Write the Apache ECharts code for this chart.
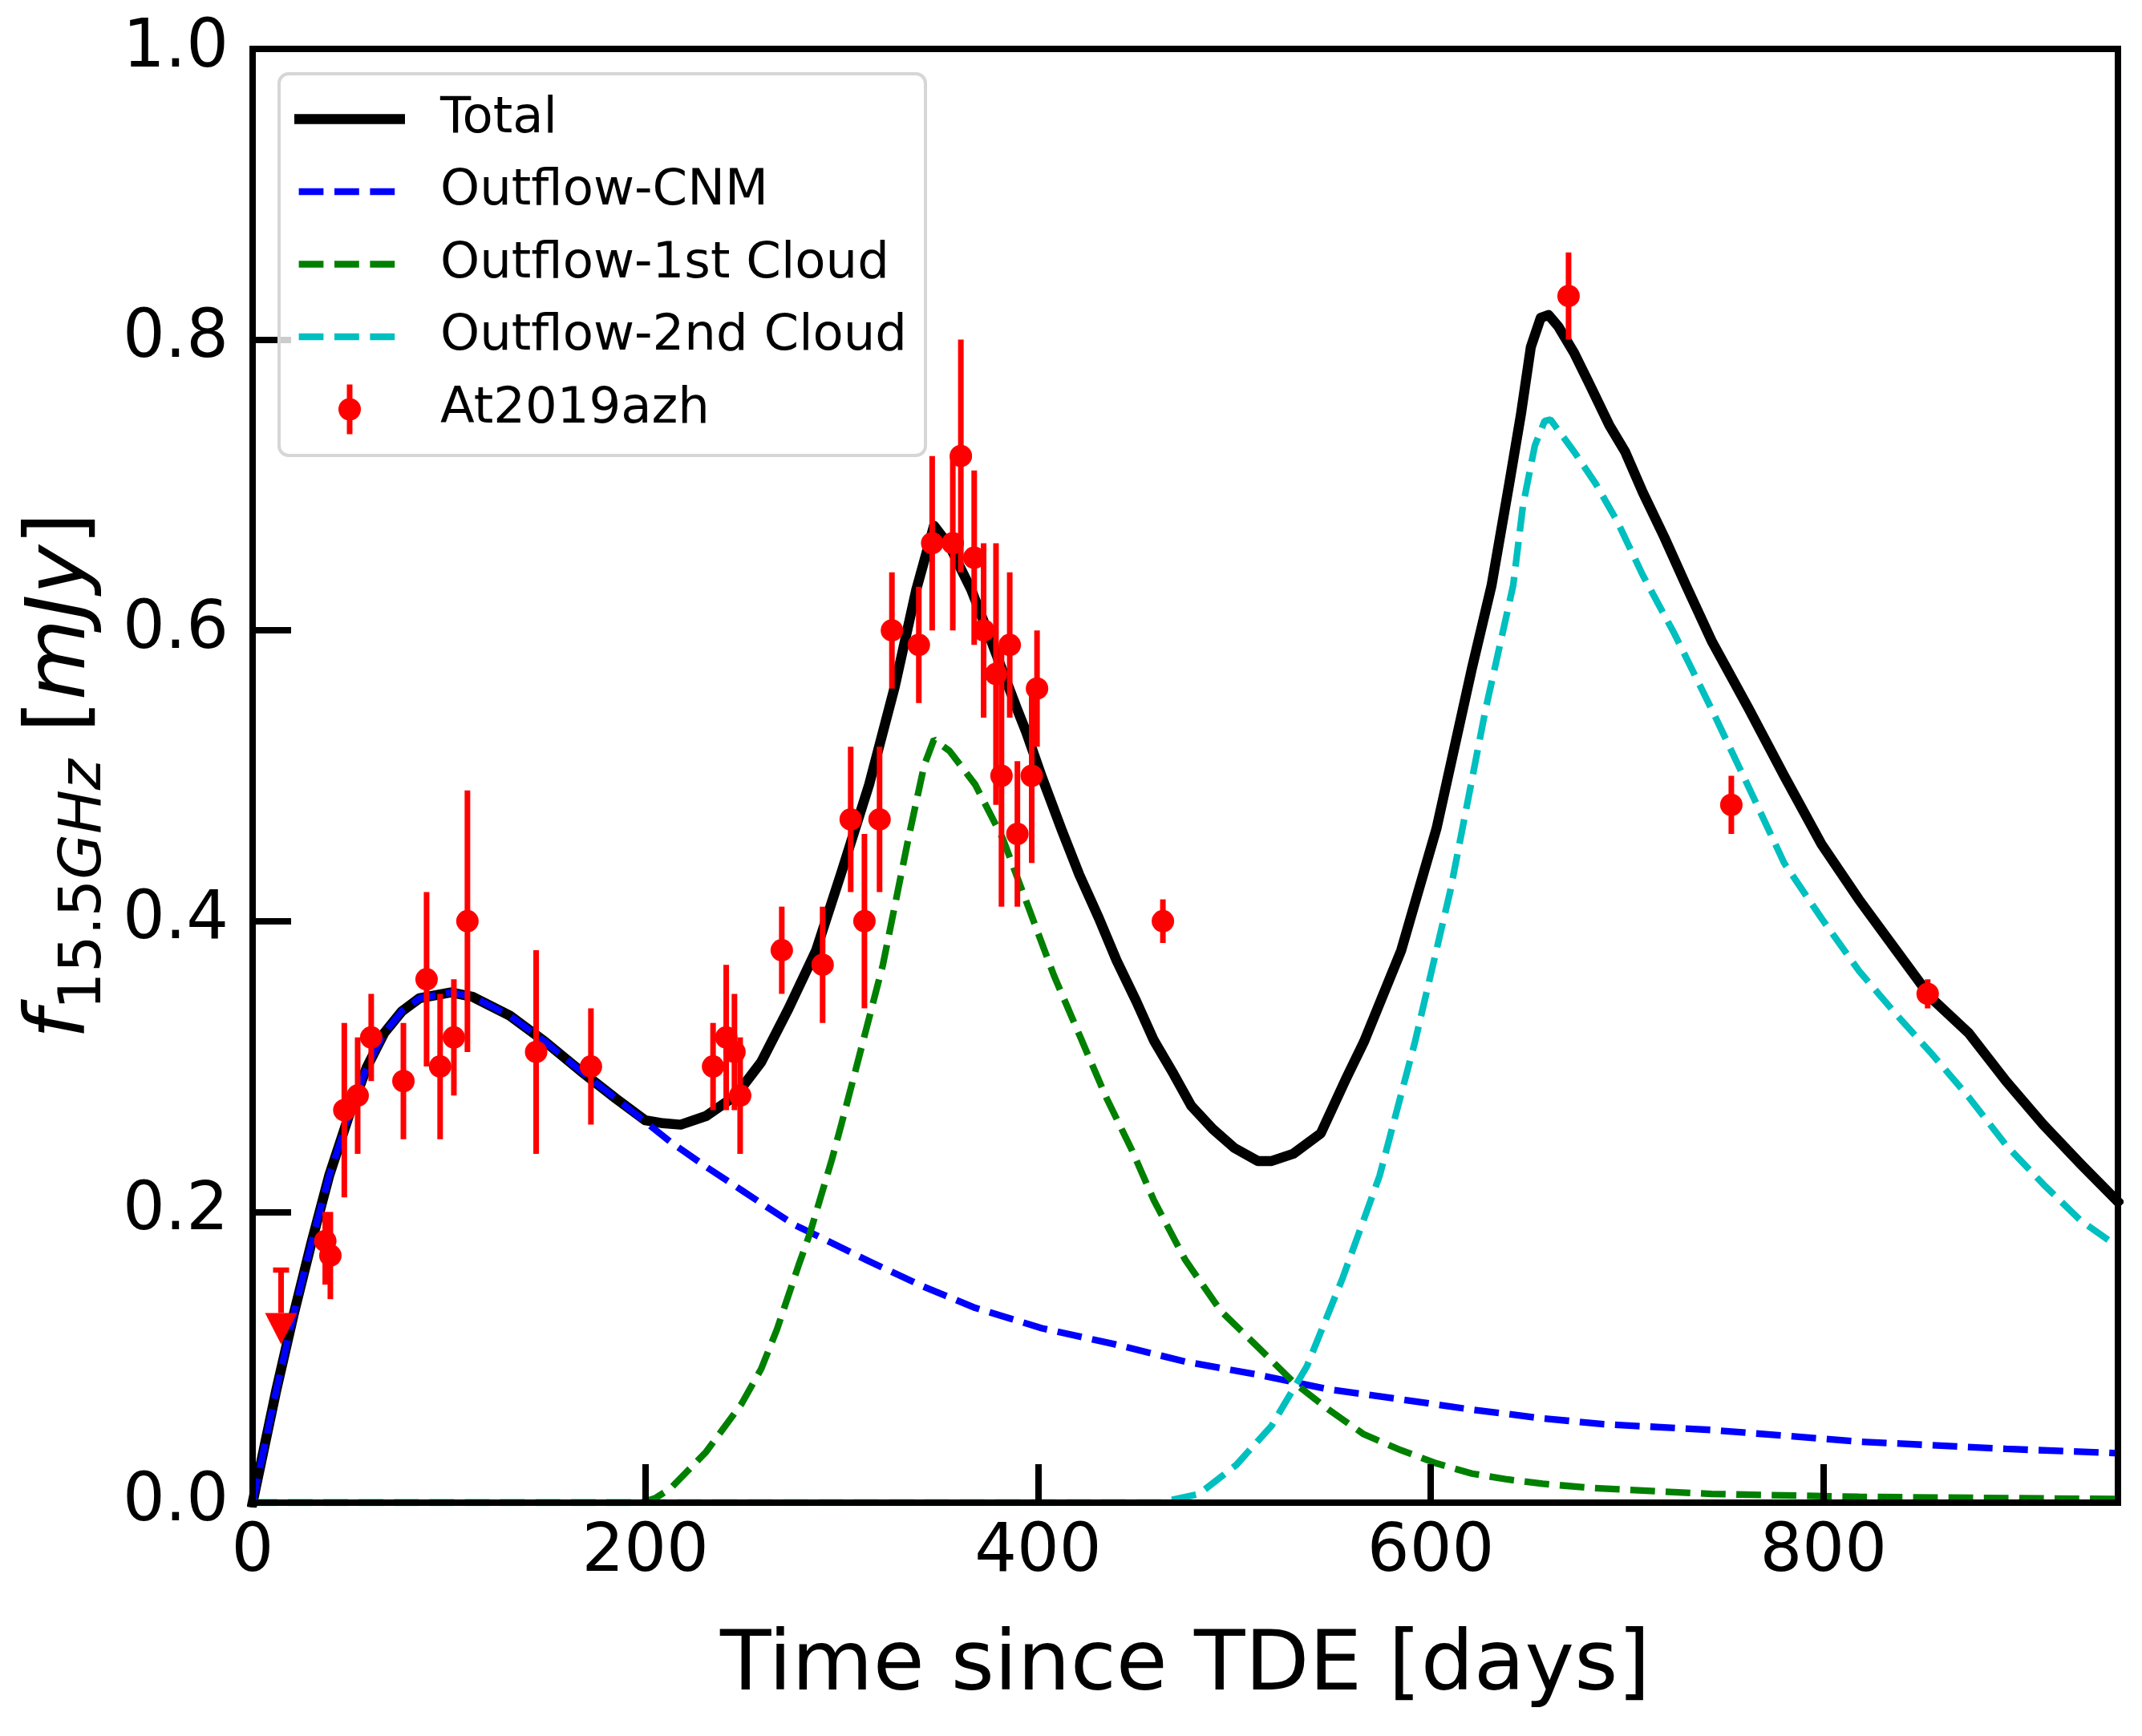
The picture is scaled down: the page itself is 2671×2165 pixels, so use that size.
<!DOCTYPE html>
<html>
<head>
<meta charset="utf-8">
<script src="https://cdn.jsdelivr.net/npm/echarts@6/dist/echarts.min.js"></script>
<style>
  html, body { margin: 0; padding: 0; background: #ffffff; }
  #chart { width: 2671px; height: 2165px; }
</style>
</head>
<body>
<div id="chart"></div>
<script>
// model curves, [days, mJy]
const totalCurve = [
    [0, 0.0], [12, 0.077], [21, 0.13], [30, 0.179], [39, 0.225], [49, 0.266], [58, 0.299],
    [67, 0.323], [76, 0.338], [85, 0.347], [101, 0.351], [112, 0.348], [131, 0.335],
    [149, 0.317], [167, 0.297], [185, 0.278], [200, 0.263], [209, 0.261], [218, 0.260],
    [231, 0.266], [246, 0.280], [259, 0.303], [273, 0.340], [287, 0.380], [300, 0.434],
    [314, 0.494], [327, 0.561], [338, 0.628], [347, 0.672], [355, 0.658], [366, 0.628],
    [375, 0.597], [389, 0.547], [394, 0.530], [402, 0.499], [412, 0.463], [421, 0.432],
    [431, 0.402], [440, 0.373], [450, 0.345], [459, 0.318], [469, 0.295], [478, 0.273],
    [489, 0.257], [500, 0.244], [512, 0.235], [519, 0.235], [530, 0.240], [544, 0.254],
    [557, 0.292], [566, 0.317], [585, 0.380], [603, 0.464], [621, 0.574], [631, 0.631],
    [640, 0.701], [646, 0.749], [651, 0.795], [656, 0.815], [660, 0.817], [665, 0.809],
    [673, 0.791], [681, 0.769], [691, 0.741], [699, 0.723], [708, 0.695], [719, 0.664],
    [730, 0.631], [743, 0.593], [762, 0.546], [780, 0.500], [799, 0.453], [818, 0.415],
    [837, 0.380], [855, 0.347], [874, 0.323], [893, 0.290], [912, 0.260], [931, 0.233],
    [950, 0.207]
];
const cnmCurve = [
    [0, 0.0], [12, 0.077], [21, 0.13], [30, 0.179], [39, 0.225], [49, 0.266], [58, 0.299],
    [67, 0.323], [76, 0.338], [85, 0.347], [101, 0.351], [112, 0.348], [131, 0.335],
    [149, 0.317], [167, 0.297], [185, 0.278], [200, 0.262], [213, 0.248], [231, 0.231],
    [249, 0.215], [259, 0.206], [276, 0.191], [287, 0.184], [314, 0.166], [341, 0.149],
    [368, 0.134], [402, 0.120], [439, 0.109], [475, 0.097], [512, 0.088], [548, 0.078],
    [585, 0.071], [621, 0.064], [657, 0.058], [688, 0.054], [743, 0.050], [818, 0.042],
    [893, 0.037], [950, 0.034]
];
const cloud1Curve = [
    [0, 0.0], [198, 0.0], [205, 0.003], [213, 0.010], [231, 0.035], [249, 0.068], [259, 0.092],
    [267, 0.119], [278, 0.163], [284, 0.186], [295, 0.236], [300, 0.261], [307, 0.297],
    [321, 0.370], [334, 0.457], [342, 0.507], [347, 0.525], [355, 0.517], [368, 0.494],
    [382, 0.457], [395, 0.410], [408, 0.363], [421, 0.322], [435, 0.278], [448, 0.242],
    [459, 0.208], [475, 0.167], [493, 0.132], [512, 0.107], [530, 0.083], [548, 0.064],
    [566, 0.047], [585, 0.036], [603, 0.027], [621, 0.020], [639, 0.016], [657, 0.013],
    [683, 0.010], [743, 0.006], [818, 0.004], [950, 0.0025]
];
const cloud2Curve = [
    [0, 0.0], [462, 0.0], [482, 0.006], [501, 0.026], [519, 0.053], [537, 0.094], [555, 0.154],
    [574, 0.225], [592, 0.317], [610, 0.421], [628, 0.546], [642, 0.631], [647, 0.686],
    [653, 0.727], [658, 0.744], [661, 0.745], [673, 0.723], [684, 0.701], [695, 0.675],
    [708, 0.638], [724, 0.598], [743, 0.546], [762, 0.492], [780, 0.440], [799, 0.402],
    [818, 0.366], [837, 0.336], [855, 0.309], [874, 0.279], [893, 0.246], [912, 0.219],
    [931, 0.194], [950, 0.176]
];

// AT2019azh 15.5 GHz detections
const obsDays = [37, 39.6, 46.7, 53.5, 60.4, 76.8, 88.6, 95.5, 102.5, 109.4, 144.4, 172.3,
    234.5, 241.2, 245.4, 248.3, 269.5, 290.3, 304.6, 311.6, 319.3, 325.6, 339.3, 346.1,
    356.6, 360.7, 367.5, 372.3, 378.6, 381.4, 385.6, 389.5, 396.8, 399.5, 463.6, 670.2,
    753.1, 853.1];
const obsFlux = [0.18, 0.17, 0.27, 0.28, 0.32, 0.29, 0.36, 0.30, 0.32, 0.40, 0.31, 0.30,
    0.30, 0.32, 0.31, 0.28, 0.38, 0.37, 0.47, 0.40, 0.47, 0.60, 0.59, 0.66,
    0.66, 0.72, 0.65, 0.60, 0.57, 0.50, 0.59, 0.46, 0.50, 0.56, 0.40, 0.83,
    0.48, 0.35];
const obsErrLow = [0.03, 0.03, 0.06, 0.04, 0.03, 0.04, 0.06, 0.05, 0.04, 0.09, 0.07, 0.04,
    0.03, 0.05, 0.04, 0.04, 0.03, 0.04, 0.05, 0.06, 0.05, 0.04, 0.04, 0.06,
    0.06, 0.08, 0.06, 0.06, 0.09, 0.09, 0.05, 0.05, 0.06, 0.04, 0.015, 0.03,
    0.02, 0.01];
const obsErrHigh = [0.02, 0.03, 0.06, 0.04, 0.03, 0.04, 0.06, 0.05, 0.04, 0.09, 0.07, 0.04,
    0.03, 0.05, 0.04, 0.04, 0.03, 0.04, 0.05, 0.06, 0.05, 0.04, 0.04, 0.06,
    0.06, 0.08, 0.06, 0.06, 0.09, 0.09, 0.05, 0.05, 0.06, 0.04, 0.015, 0.03,
    0.02, 0.01];

// upper limit: value and length of the downward arrow
const limitDays = [14.5];
const limitFlux = [0.16];
const limitDrop = [0.04];

const legendNames = ['Total', 'Outflow-CNM', 'Outflow-1st Cloud', 'Outflow-2nd Cloud', 'At2019azh'];

const FONT = 'DejaVu Sans';
const DASH = [30.8, 13.3];

const chart = echarts.init(document.getElementById('chart'), null, { renderer: 'canvas' });

const spine = { show: true, onZero: false, lineStyle: { color: '#000', width: 8, cap: 'square' } };
const tick = { show: true, inside: true, length: 48, lineStyle: { color: '#000', width: 8 } };

// legend handles; the leading moves pin the box so dashes keep their real length
const solidIcon = 'path://M0,0h138v12.5h-138z';
const dashIcon = 'path://M0,0M138,8.3M5.6,0h30.8v8.3h-30.8zM50,0h30.8v8.3h-30.8zM94.4,0h30.8v8.3h-30.8z';
const pointIcon = 'path://M0,0M138,62M65.5,0h7v18h-7zM65.5,44h7v18h-7zM55,31a14,14 0 1,1 28,0a14,14 0 1,1 -28,0z';

chart.setOption({
    backgroundColor: '#ffffff',
    animation: false,
    grid: { left: 315, right: 30, top: 61, bottom: 291, containLabel: false },
    legend: {
        orient: 'vertical',
        left: 348,
        top: 92,
        z: 20,
        padding: [25, 23, 26, 19],
        itemWidth: 138,
        itemHeight: 62,
        itemGap: 27.5,
        symbolKeepAspect: true,
        selectedMode: false,
        backgroundColor: 'rgba(255,255,255,0.8)',
        borderColor: '#d6d6d6',
        borderWidth: 4,
        borderRadius: 12,
        itemStyle: { borderWidth: 0 },
        textStyle: { fontFamily: FONT, fontSize: 62.5, color: '#000', lineHeight: 62, padding: [0, 0, 0, 39] },
        data: [
            { name: legendNames[0], icon: solidIcon },
            { name: legendNames[1], icon: dashIcon },
            { name: legendNames[2], icon: dashIcon },
            { name: legendNames[3], icon: dashIcon },
            { name: legendNames[4], icon: pointIcon }
        ]
    },
    xAxis: [
        {
            type: 'value',
            position: 'bottom',
            min: 0,
            max: 950,
            interval: 200,
            z: 10,
            name: 'Time since TDE [days]',
            nameLocation: 'middle',
            nameGap: 206,
            nameTextStyle: { fontFamily: FONT, fontSize: 104, color: '#000', verticalAlign: 'middle' },
            axisLine: spine,
            axisTick: tick,
            axisLabel: { fontFamily: FONT, fontSize: 83, color: '#000', margin: 22, showMaxLabel: false },
            splitLine: { show: false }
        },
        {
            type: 'value',
            position: 'top',
            min: 0,
            max: 950,
            z: 10,
            axisLine: spine,
            axisTick: { show: false },
            axisLabel: { show: false },
            splitLine: { show: false }
        }
    ],
    yAxis: [
        {
            type: 'value',
            position: 'left',
            min: 0,
            max: 1,
            interval: 0.2,
            z: 10,
            name: '{i|f}{s|15.5}{si|GHz}{n| [}{i|mJy}{n|]}',
            nameLocation: 'middle',
            nameGap: 235,
            nameRotate: 90,
            nameTextStyle: {
                fontFamily: FONT, fontSize: 104, color: '#000', verticalAlign: 'middle',
                rich: {
                    i: { fontFamily: FONT, fontSize: 104, fontStyle: 'italic', color: '#000' },
                    n: { fontFamily: FONT, fontSize: 104, color: '#000' },
                    s: { fontFamily: FONT, fontSize: 73, color: '#000', padding: [56, 0, 0, 0] },
                    si: { fontFamily: FONT, fontSize: 73, fontStyle: 'italic', color: '#000', padding: [56, 0, 0, 0] }
                }
            },
            axisLine: spine,
            axisTick: tick,
            axisLabel: { fontFamily: FONT, fontSize: 83, color: '#000', margin: 30, formatter: v => v.toFixed(1) },
            splitLine: { show: false }
        },
        {
            type: 'value',
            position: 'right',
            min: 0,
            max: 1,
            z: 10,
            axisLine: spine,
            axisTick: { show: false },
            axisLabel: { show: false },
            splitLine: { show: false }
        }
    ],
    series: [
        {
            name: legendNames[0],
            type: 'line',
            data: totalCurve,
            showSymbol: false,
            symbol: 'none',
            z: 2,
            color: '#000000',
            lineStyle: { color: '#000000', width: 12.5, join: 'round', cap: 'square' }
        },
        {
            name: legendNames[1],
            type: 'line',
            data: cnmCurve,
            showSymbol: false,
            symbol: 'none',
            z: 2,
            color: '#0000ff',
            lineStyle: { color: '#0000ff', width: 8.3, type: DASH, cap: 'butt' }
        },
        {
            name: legendNames[2],
            type: 'line',
            data: cloud1Curve,
            showSymbol: false,
            symbol: 'none',
            z: 2,
            color: '#008000',
            lineStyle: { color: '#008000', width: 8.3, type: DASH, cap: 'butt' }
        },
        {
            name: legendNames[3],
            type: 'line',
            data: cloud2Curve,
            showSymbol: false,
            symbol: 'none',
            z: 2,
            color: '#00bfbf',
            lineStyle: { color: '#00bfbf', width: 8.3, type: DASH, cap: 'butt' }
        },
        {
            name: 'errorbars',
            type: 'custom',
            z: 3,
            data: obsDays.map((d, i) => [d, obsFlux[i] - obsErrLow[i], obsFlux[i] + obsErrHigh[i]]),
            encode: { x: 0, y: [1, 2] },
            renderItem: (params, api) => {
                const lo = api.coord([api.value(0), api.value(1)]);
                const hi = api.coord([api.value(0), api.value(2)]);
                return {
                    type: 'line',
                    shape: { x1: lo[0], y1: lo[1], x2: hi[0], y2: hi[1] },
                    style: { stroke: '#ff0000', lineWidth: 7 }
                };
            }
        },
        {
            name: 'upperlimit',
            type: 'custom',
            z: 3,
            data: limitDays.map((d, i) => [d, limitFlux[i], limitFlux[i] - limitDrop[i]]),
            encode: { x: 0, y: [1, 2] },
            renderItem: (params, api) => {
                const top = api.coord([api.value(0), api.value(1)]);
                const end = api.coord([api.value(0), api.value(2)]);
                return {
                    type: 'group',
                    children: [
                        { type: 'line', shape: { x1: top[0], y1: top[1], x2: end[0], y2: end[1] - 19 },
                          style: { stroke: '#ff0000', lineWidth: 7 } },
                        { type: 'line', shape: { x1: top[0] - 10, y1: top[1], x2: top[0] + 10, y2: top[1] },
                          style: { stroke: '#ff0000', lineWidth: 6.5 } },
                        { type: 'polygon', shape: { points: [[end[0] - 20, end[1] - 19], [end[0] + 20, end[1] - 19], [end[0], end[1] + 20]] },
                          style: { fill: '#ff0000' } }
                    ]
                };
            }
        },
        {
            name: legendNames[4],
            type: 'scatter',
            z: 4,
            data: obsDays.map((d, i) => [d, obsFlux[i]]),
            symbol: 'circle',
            symbolSize: 28,
            itemStyle: { color: '#ff0000', opacity: 1 }
        }
    ]
});
</script>
</body>
</html>
